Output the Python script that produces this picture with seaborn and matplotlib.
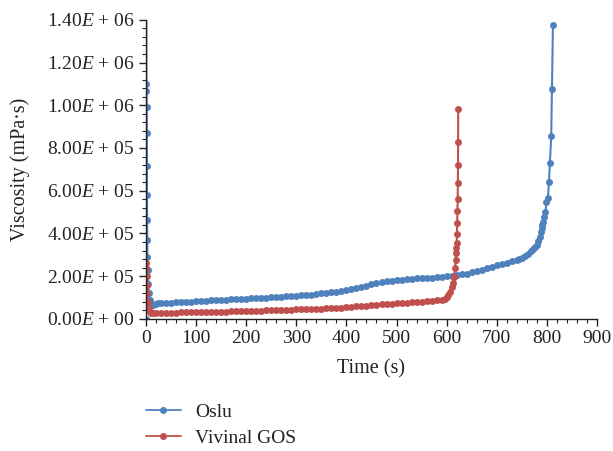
import numpy as np
import pandas as pd
import matplotlib
matplotlib.use("Agg")
import matplotlib.pyplot as plt
import seaborn as sns
from matplotlib.lines import Line2D

# ---- data (time in s, viscosity in thousands of mPa·s) ----
oslu_t = [0, 0.3, 1, 1.2, 1.5, 1.8, 2, 2.2, 2.4, 2.6, 3, 4, 5, 6, 8, 10, 12, 15, 20, 25, 30,
          40, 50, 60, 70, 80, 90, 100, 110, 120, 130, 140, 150, 160, 170, 180, 190, 200,
          210, 220, 230, 240, 250, 260, 270, 280, 290, 300, 310, 320, 330, 340, 350, 360,
          370, 380, 390, 400, 410, 420, 430, 440, 450, 460, 470, 480, 490, 500, 510, 520,
          530, 540, 550, 560, 570, 580, 590, 600, 610, 620, 630, 640, 650, 660, 670, 680,
          690, 700, 710, 720, 730, 740, 745, 750, 756, 762, 768, 772, 776, 780, 783, 786,
          788, 790, 791, 793, 795, 797, 799, 802, 804, 806, 808.5, 810, 812]
oslu_v = [0, 1600, 1100, 1065, 990, 870, 715, 580, 465, 370, 290, 230, 165, 120, 90, 75, 66, 63, 68, 72, 73,
          75, 76, 77, 78, 80, 81, 83, 84, 85, 86, 87, 88, 89, 91, 92, 93, 95,
          96, 97, 98, 99, 101, 102, 104, 105, 107, 108, 110, 112, 114, 116, 119, 121,
          124, 128, 132, 136, 140, 145, 150, 156, 162, 168, 172, 176, 179, 182, 184, 186,
          188, 190, 191, 192, 193, 195, 197, 199, 202, 205, 208, 212, 218, 224, 230, 236,
          242, 250, 256, 262, 272, 276, 280, 285, 295, 305, 318, 328, 338, 347, 365, 383,
          406, 425, 440, 455, 476, 500, 549, 568, 640, 732, 854, 1077, 1377]

gos_t = [0, 0.5, 1, 1.5, 2, 3, 4, 5, 6, 8, 10, 15, 20, 30, 40, 50, 60, 70, 80, 90, 100,
         110, 120, 130, 140, 150, 160, 170, 180, 190, 200, 210, 220, 230, 240, 250, 260,
         270, 280, 290, 300, 310, 320, 330, 340, 350, 360, 370, 380, 390, 400, 410, 420,
         430, 440, 450, 460, 470, 480, 490, 500, 510, 520, 530, 540, 550, 560, 570, 580,
         590, 596, 600, 603, 607, 610, 612, 615, 617, 618, 619, 619.5, 620, 620.5, 621,
         621.5, 622, 622.3, 622.6, 622.8, 623]
gos_v = [42, 262, 240, 200, 160, 120, 80, 55, 40, 32, 28, 27, 27, 28, 28, 29, 29, 30, 30, 31, 31,
         32, 32, 33, 33, 34, 34, 35, 36, 36, 37, 38, 38, 39, 40, 40, 41,
         42, 42, 43, 44, 45, 46, 46, 47, 48, 49, 50, 52, 53, 55, 56, 58,
         60, 62, 64, 66, 68, 70, 71, 73, 75, 76, 78, 80, 81, 82, 84, 87,
         90, 93, 100, 112, 125, 151, 170, 198, 240, 276, 309, 333, 356, 395, 448,
         504, 562, 636, 720, 826, 983]

series_names = ["Oslu", "Vivinal GOS"]
y_ticks = [0, 200000, 400000, 600000, 800000, 1000000, 1200000, 1400000]
y_tick_labels = ["0.00$E$ + 00", "2.00$E$ + 05", "4.00$E$ + 05", "6.00$E$ + 05",
                 "8.00$E$ + 05", "1.00$E$ + 06", "1.20$E$ + 06", "1.40$E$ + 06"]
x_ticks = [0, 100, 200, 300, 400, 500, 600, 700, 800, 900]

# ---- style ----
sns.set_theme(style="white")
plt.rcParams["font.family"] = ["Liberation Serif", "DejaVu Serif"]
plt.rcParams["mathtext.fontset"] = "custom"
plt.rcParams["mathtext.rm"] = "Liberation Serif"
plt.rcParams["mathtext.it"] = "Liberation Serif:italic"

blue = "#4F81BD"
red = "#C0504D"
ink = "#222222"

df = pd.concat([
    pd.DataFrame({"Time": oslu_t, "Viscosity": np.array(oslu_v) * 1000.0, "Sample": series_names[0]}),
    pd.DataFrame({"Time": gos_t, "Viscosity": np.array(gos_v) * 1000.0, "Sample": series_names[1]}),
], ignore_index=True)

fig = plt.figure(figsize=(6.13, 4.51), dpi=100)
ax = fig.add_axes([0.238, 0.293, 0.736, 0.663])

sns.lineplot(data=df, x="Time", y="Viscosity", hue="Sample", palette=[blue, red],
             estimator=None, sort=False, marker="o", markersize=5, markeredgewidth=0,
             linewidth=1.5, ax=ax, legend=False)

ax.set_xlim(0, 900)
ax.set_ylim(0, 1400000)
ax.set_xticks(x_ticks)
ax.set_xticklabels([str(v) for v in x_ticks])
ax.set_yticks(y_ticks)
ax.set_yticklabels(y_tick_labels)
ax.set_xticks(np.arange(0, 901, 20), minor=True)
ax.set_yticks(np.arange(0, 1400001, 40000), minor=True)
ax.tick_params(axis="both", which="major", direction="out", length=5, width=1,
               color=ink, labelsize=14, labelcolor=ink, pad=3,
               bottom=True, left=True)
ax.tick_params(axis="both", which="minor", direction="out", length=3, width=0.8,
               color=ink, bottom=True, left=True)

for s in ["top", "right"]:
    ax.spines[s].set_visible(False)
for s in ["left", "bottom"]:
    ax.spines[s].set_color(ink)
    ax.spines[s].set_linewidth(1.0)

ax.set_xlabel("Time (s)", fontsize=14.5, color=ink, labelpad=9)
ax.set_ylabel("Viscosity (mPa·s)", fontsize=14.5, color=ink, labelpad=12)

handles = [Line2D([], [], color=blue, marker="o", markersize=4, linewidth=1.3),
           Line2D([], [], color=red, marker="o", markersize=4, linewidth=1.3)]
fig.legend(handles, series_names, loc="upper left", bbox_to_anchor=(0.238, 0.106),
           frameon=False, fontsize=14, handlelength=1.8, labelspacing=0.45,
           handletextpad=0.75, labelcolor=ink, borderaxespad=0, borderpad=0)

fig.savefig("out.png", dpi=100)
